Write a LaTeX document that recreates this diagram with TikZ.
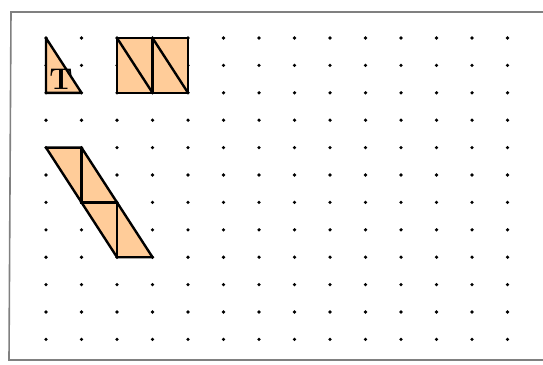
\documentclass[tikz,border=0pt]{standalone}
\usepackage{fontspec}
\usepackage{tikz}
\definecolor{peach}{HTML}{FFCC99}
\definecolor{framegray}{HTML}{808080}
\tikzset{piece/.style={draw=black, fill=peach, line width=2.4pt, line join=round}}
\tikzset{cut/.style={draw=black, line width=2.4pt, line cap=round}}
\tikzset{tag/.style={inner sep=0pt, font=\fontsize{30}{30}\selectfont\bfseries}}

\begin{document}
\begin{tikzpicture}[x=1pt,y=-1pt]
\newcommand\X{35.5}
\newcommand\Y{27.4}
\useasboundingbox (0,0) rectangle (543,364);

% sheet border
\draw[framegray, line width=1.6pt] (560,12) -- (11,12) -- (9,360) -- (560,360);

% dot grid
\foreach \i in {0,...,13}
  \foreach \j in {0,...,11}
    \coordinate (p\i-\j) at (46+\i*\X, 38+\j*\Y);
\foreach \i in {0,...,13}
  \foreach \j in {0,...,11}
    \fill (p\i-\j) circle (1.8);

% triangle T
\draw[piece] (p0-0) -- (p0-2) -- (p1-2) -- cycle;
\node[tag] (tlabel) at (61,79) {T};

% square out of two T's
\draw[piece] (p2-0) rectangle (p4-2);
\draw[cut] (p3-0) -- (p3-2);
\draw[cut] (p2-0) -- (p3-2);
\draw[cut] (p3-0) -- (p4-2);

% slanted strip out of four T's
\draw[piece] (p0-4) -- (p1-4) -- (p3-8) -- (p2-8) -- cycle;
\draw[cut] (p1-4) -- (p1-6) -- (p2-6) -- (p2-8);
\end{tikzpicture}
\end{document}
